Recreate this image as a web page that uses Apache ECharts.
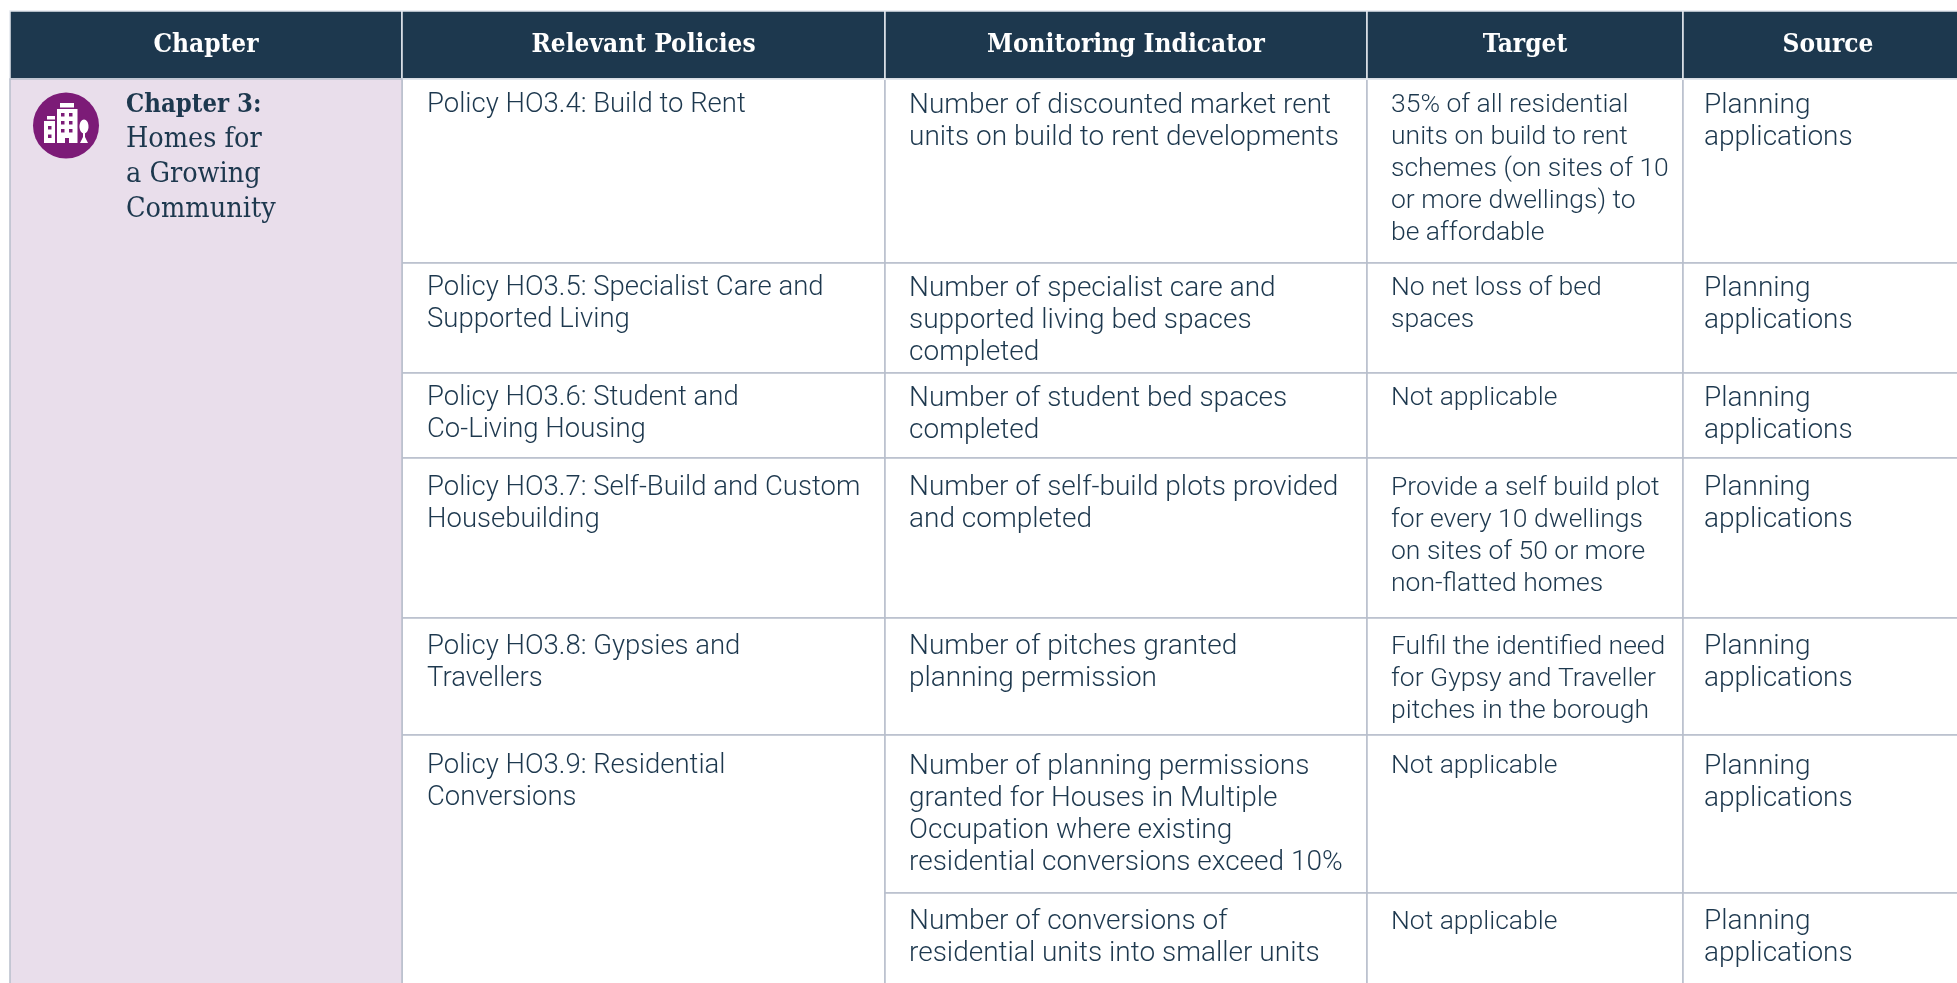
<!DOCTYPE html>
<html>
<head>
<meta charset="utf-8">
<title>Monitoring indicators</title>
<style>
  html, body { margin: 0; padding: 0; background: #fff; }
  #chart { width: 1957px; height: 983px; }
</style>
<script src="https://cdn.jsdelivr.net/npm/echarts@6/dist/echarts.min.js"></script>
</head>
<body>
<div id="chart"></div>
<script>
// table content
var headers = ['Chapter', 'Relevant Policies', 'Monitoring Indicator', 'Target', 'Source']
var rowNames = ['HO3.4', 'HO3.5', 'HO3.6', 'HO3.7', 'HO3.8', 'HO3.9a', 'HO3.9b']
var chapterText = '{b|Chapter 3:}\nHomes for\na Growing\nCommunity'
var policies = [
  'Policy HO3.4: Build to Rent',
  'Policy HO3.5: Specialist Care and\nSupported Living',
  'Policy HO3.6: Student and\nCo-Living Housing',
  'Policy HO3.7: Self-Build and Custom\nHousebuilding',
  'Policy HO3.8: Gypsies and\nTravellers',
  'Policy HO3.9: Residential\nConversions'
]
var indicators = [
  'Number of discounted market rent\nunits on build to rent developments',
  'Number of specialist care and\nsupported living bed spaces\ncompleted',
  'Number of student bed spaces\ncompleted',
  'Number of self-build plots provided\nand completed',
  'Number of pitches granted\nplanning permission',
  'Number of planning permissions\ngranted for Houses in Multiple\nOccupation where existing\nresidential conversions exceed 10%',
  'Number of conversions of\nresidential units into smaller units'
]
var targets = [
  '35% of all residential\nunits on build to rent\nschemes (on sites of 10\nor more dwellings) to\nbe affordable',
  'No net loss of bed\nspaces',
  'Not applicable',
  'Provide a self build plot\nfor every 10 dwellings\non sites of 50 or more\nnon-flatted homes',
  'Fulfil the identified need\nfor Gypsy and Traveller\npitches in the borough',
  'Not applicable',
  'Not applicable'
]
var sources = ['Planning\napplications', 'Planning\napplications', 'Planning\napplications', 'Planning\napplications', 'Planning\napplications', 'Planning\napplications', 'Planning\napplications']

// layout
var colWidths = [392, 483, 482, 316, 290]
var rowHeights = [183.5, 110.5, 85, 160, 117, 157.5, 110]
var colPads = [0, 25, 24, 24, 21]
var rowPads = [10.5, 9.5, 9.5, 14, 13, 15.5, 13]
var colFontSizes = [0, 27.5, 28, 26.5, 28]
var ink = '#1d384e'
var rule = '#b8bfcc'
var slab = 'DejaVu Serif Condensed'
var bodyFont = { fontFamily: 'Roboto', fontWeight: 300, fontSize: 28, lineHeight: 32, color: ink }

var cells = []
function cellLabel(col, row) {
  return { fontSize: colFontSizes[col], padding: [rowPads[row], 0, 0, colPads[col]] }
}
function addCell(col, row, text) {
  cells.push({ coord: [col, row], value: text, label: cellLabel(col, row) })
}
cells.push({
  coord: [0, [0, rowNames.length - 1]],
  mergeCells: true,
  value: chapterText,
  itemStyle: { color: '#e9deeb' },
  label: {
    fontFamily: slab,
    fontWeight: 'normal',
    fontSize: 28.5,
    lineHeight: 35,
    padding: [8.5, 0, 0, 116],
    rich: { b: { fontFamily: slab, fontWeight: 'bold', fontSize: 25.5, lineHeight: 35, color: ink } }
  }
})
policies.forEach(function (p, i) {
  if (i == 5) {
    cells.push({ coord: [1, [5, 6]], mergeCells: true, value: p, label: cellLabel(1, 5) })
  } else {
    addCell(1, i, p)
  }
})
indicators.forEach(function (t, i) { addCell(2, i, t) })
targets.forEach(function (t, i) { addCell(3, i, t) })
sources.forEach(function (t, i) { addCell(4, i, t) })

// icon windows, same purple as the disc
var iconWindows = [[61, 113], [69, 113], [61, 121], [69, 121], [61, 129], [69, 129], [48, 126], [48, 134.5]].map(function (w) {
  return { type: 'rect', shape: { x: w[0], y: w[1], width: 3.5, height: 3.5 }, style: { fill: '#7c1b77' } }
})

var chart = echarts.init(document.getElementById('chart'))
chart.setOption({
  animation: false,
  backgroundColor: '#fff',
  matrix: {
    left: 10,
    top: 11,
    width: colWidths.reduce(function (a, b) { return a + b }, 0),
    height: 68 + rowHeights.reduce(function (a, b) { return a + b }, 0),
    backgroundStyle: { color: '#fff', borderWidth: 0 },
    corner: { show: false },
    y: {
      show: false,
      data: rowNames.map(function (r, i) { return { value: r, size: rowHeights[i] } })
    },
    x: {
      levelSize: 68,
      data: headers.map(function (h, i) { return { value: h, size: colWidths[i] } }),
      itemStyle: { color: ink, borderColor: '#e4e8ee', borderWidth: 1.5 },
      dividerLineStyle: { color: '#e4e8ee', width: 1.5 },
      label: { color: '#fff', fontFamily: slab, fontWeight: 'bold', fontSize: 26, padding: [8, 0, 0, 0] }
    },
    body: {
      data: cells,
      itemStyle: { color: '#fff', borderColor: rule, borderWidth: 1.5 },
      label: Object.assign({ position: 'insideTopLeft', distance: 0, align: 'left', verticalAlign: 'top', overflow: 'none' }, bodyFont)
    }
  },
  graphic: [{
    type: 'group',
    children: [
      { type: 'circle', shape: { cx: 66, cy: 125.5, r: 33 }, style: { fill: '#7c1b77' } },
      { type: 'rect', shape: { x: 60, y: 103, width: 14, height: 4.5 }, style: { fill: '#fff' } },
      { type: 'rect', shape: { x: 57, y: 109, width: 20.5, height: 34 }, style: { fill: '#fff' } },
      { type: 'rect', shape: { x: 47, y: 116, width: 8, height: 3.5 }, style: { fill: '#fff' } },
      { type: 'rect', shape: { x: 44, y: 121, width: 11, height: 22 }, style: { fill: '#fff' } },
      { type: 'rect', shape: { x: 65, y: 138, width: 4, height: 5 }, style: { fill: '#7c1b77' } },
      { type: 'ellipse', shape: { cx: 84, cy: 126.5, rx: 4.5, ry: 7 }, style: { fill: '#fff' } },
      { type: 'polygon', shape: { points: [[83, 130], [85, 130], [85, 137], [88, 143], [80, 143], [83, 137]] }, style: { fill: '#fff' } }
    ].concat(iconWindows)
  }]
})
</script>
</body>
</html>
